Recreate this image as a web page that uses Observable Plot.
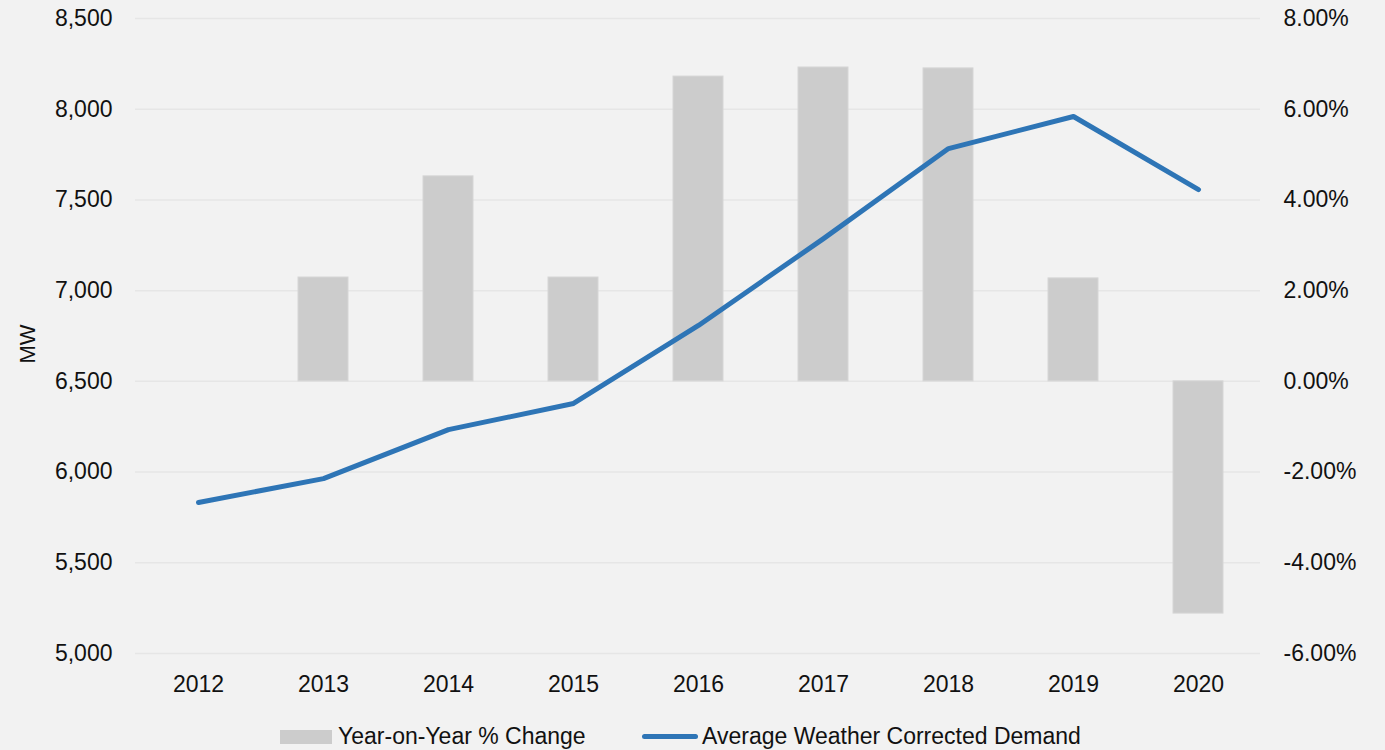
<!DOCTYPE html>
<html>
<head>
<meta charset="utf-8">
<script src="https://cdn.jsdelivr.net/npm/d3@7"></script>
<script src="https://cdn.jsdelivr.net/npm/@observablehq/plot@0.6"></script>
<style>
  html, body { margin: 0; padding: 0; background: #f2f2f2; }
  body { width: 1385px; height: 750px; overflow: hidden; font-family: "Liberation Sans", Arial, Helvetica, sans-serif; }
  #chart svg { display: block; }
  .legend { position: relative; height: 38px; font-size: 23px; color: #111; }
  .item { position: absolute; top: 11px; display: flex; align-items: center; white-space: nowrap; }
  .sw-bar { width: 52px; height: 14px; background: #cccccc; margin-right: 6px; }
  .sw-line { width: 56px; height: 5px; background: #2e75b6; border-radius: 3px; margin-right: 4px; }
</style>
</head>
<body>
<div id="chart"></div>
<div class="legend">
  <div class="item" style="left:280px"><span class="sw-bar"></span><span>Year-on-Year % Change</span></div>
  <div class="item" style="left:642px"><span class="sw-line"></span><span>Average Weather Corrected Demand</span></div>
</div>
<script>
const years = ["2012","2013","2014","2015","2016","2017","2018","2019","2020"];
const demandMW = [5832, 5964, 6234, 6378, 6808, 7287, 7783, 7960, 7557];
const yoyPct = [null, 2.29, 4.52, 2.29, 6.72, 6.92, 6.90, 2.27, -5.12];
const leftTicks = [5000, 5500, 6000, 6500, 7000, 7500, 8000, 8500];
const rightTicksPct = [-6, -4, -2, 0, 2, 4, 6, 8];

// Right axis mapping: 0% <-> 6500 MW, 1% <-> 250 MW
const pctToMW = p => 6500 + p * 250;
const mwToPct = v => (v - 6500) / 250;

const lineData = years.map((y, i) => ({year: y, mw: demandMW[i]}));
const barData = years.map((y, i) => ({year: y, pct: yoyPct[i]})).filter(d => d.pct != null);

const fmtMW = d3.format(",");
const FS = 23;
const chart = Plot.plot({
  width: 1385,
  height: 712,
  marginLeft: 135,
  marginRight: 125,
  marginTop: 18,
  marginBottom: 59,
  style: { background: "#f2f2f2", fontSize: FS + "px", fontFamily: "'Liberation Sans', Arial, Helvetica, sans-serif", color: "#111" },
  x: { domain: years, paddingInner: 0.6, paddingOuter: 0.3, align: 0.5 },
  y: { domain: [5000, 8500] },
  marks: [
    Plot.gridY(leftTicks, { stroke: "#e6e6e6", strokeOpacity: 1, strokeWidth: 1.5 }),
    Plot.barY(barData, { x: "year", y1: () => pctToMW(0), y2: d => pctToMW(d.pct), fill: "#cccccc", stroke: "#d6d6d6", strokeWidth: 1 }),
    Plot.line(lineData, { x: "year", y: "mw", stroke: "#2e75b6", strokeWidth: 5, strokeLinecap: "round", strokeLinejoin: "round" }),
    Plot.axisY(leftTicks, { anchor: "left", tickSize: 0, tickPadding: 23, tickFormat: fmtMW, label: null, fontSize: FS }),
    Plot.axisY(rightTicksPct.map(pctToMW), { anchor: "right", tickSize: 0, tickPadding: 23, tickFormat: v => mwToPct(v).toFixed(2) + "%", label: null, fontSize: FS }),
    Plot.axisX({ tickSize: 0, tickPadding: 22, label: null, fontSize: FS }),
    Plot.text(["MW"], { frameAnchor: "left", textAnchor: "middle", dx: -108, dy: 8, rotate: -90, fontSize: 22, fill: "#111" })
  ]
});
document.getElementById("chart").appendChild(chart);
</script>
</body>
</html>
